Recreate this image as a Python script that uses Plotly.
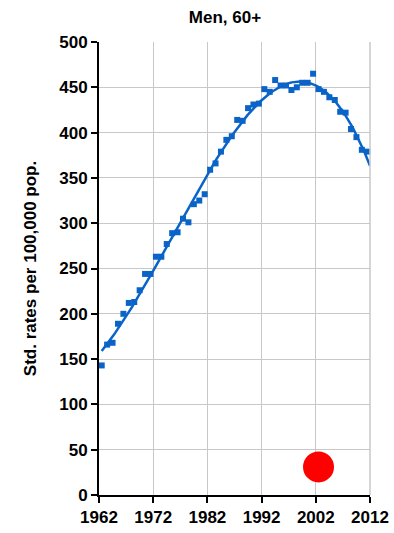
import numpy as np
import plotly.graph_objects as go

# Annual standardized rates, men aged 60+
years = list(range(1962, 2012))
rates = [143, 166, 168, 189, 200, 212, 213, 226, 244, 244,
         263, 263, 277, 289, 290, 305, 301, 321, 325, 332,
         359, 366, 379, 392, 396, 414, 413, 427, 431, 432,
         448, 445, 458, 452, 452, 447, 450, 455, 455, 465,
         448, 445, 439, 436, 423, 422, 404, 395, 381, 379]

# Highlighted single observation
highlight_year = [2002]
highlight_value = [31]

tick_years = [1962, 1972, 1982, 1992, 2002, 2012]
tick_rates = list(range(0, 501, 50))

# Points are placed at mid-year
x_mid = [y + 0.5 for y in years]
hx = [y + 0.5 for y in highlight_year]

# Polynomial trend line across the data span
coef = np.polyfit(np.array(x_mid) - 1987, rates, 3)
xt = np.linspace(x_mid[0], x_mid[-1] + 0.5, 200)
yt = np.polyval(coef, xt - 1987)

blue = "#0a64c8"
font = "Arial, Liberation Sans, sans-serif"
fsize = 17

fig = go.Figure()
fig.add_trace(go.Scatter(
    x=x_mid, y=rates, mode="markers",
    marker=dict(symbol="square", size=6, color=blue),
    showlegend=False, cliponaxis=False))
fig.add_trace(go.Scatter(
    x=xt, y=yt, mode="lines",
    line=dict(color=blue, width=2.5),
    showlegend=False))
fig.add_trace(go.Scatter(
    x=hx, y=highlight_value, mode="markers",
    marker=dict(symbol="circle", size=31, color="#ff0000"),
    showlegend=False))

fig.update_layout(
    width=394, height=533,
    margin=dict(l=99, r=24, t=42, b=38),
    paper_bgcolor="white", plot_bgcolor="white",
    title=dict(text="<b>Men, 60+</b>", x=0.571, xanchor="center",
               y=0.968, yanchor="middle",
               font=dict(family=font, size=fsize, color="black")),
    font=dict(family=font, size=fsize, color="black"),
)
fig.update_xaxes(
    range=[1962, 2012], tickvals=tick_years,
    ticktext=[f"<b>{t}</b>" for t in tick_years],
    showgrid=True, gridcolor="#c8c8c8", gridwidth=1,
    showline=True, linecolor="black", linewidth=2,
    ticks="outside", ticklen=6, tickwidth=2, tickcolor="black",
    tickfont=dict(family=font, size=fsize, color="black"),
    zeroline=False, mirror=False, automargin=False)
fig.update_yaxes(
    range=[0, 500],
    tickvals=tick_rates,
    ticktext=[f"<b>{v}</b>" for v in tick_rates],
    showgrid=True, gridcolor="#c8c8c8", gridwidth=1,
    showline=True, linecolor="black", linewidth=2,
    ticks="outside", ticklen=6, tickwidth=2, tickcolor="black",
    tickfont=dict(family=font, size=fsize, color="black"),
    title=dict(text="<b>Std. rates per 100,000 pop.</b>",
               font=dict(family=font, size=fsize, color="black"), standoff=18),
    zeroline=False, automargin=False)
# Right border of the plotting area
fig.add_shape(type="line", xref="paper", yref="paper", x0=1, x1=1, y0=0, y1=1,
              line=dict(color="#c8c8c8", width=1.5))

fig.write_html("out.html")
